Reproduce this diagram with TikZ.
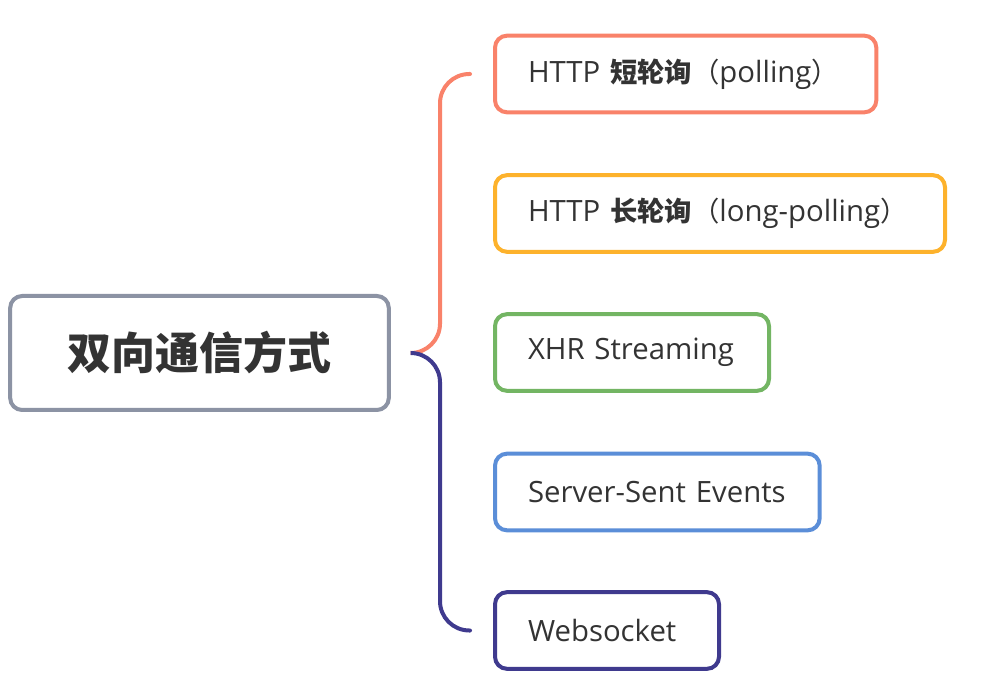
\documentclass[tikz,border=0pt]{standalone}
\usepackage{fontspec}
\setmainfont{Open Sans}
\newfontfamily\cjk{Noto Sans CJK SC}
\newcommand\zhb[1]{{\cjk\bfseries\fontsize{20.5}{26}\selectfont #1}}
\newcommand\zhp[1]{{\cjk\fontsize{20.5}{26}\selectfont #1}}
\usetikzlibrary{calc}
\definecolor{cOrange}{HTML}{F9826A}
\definecolor{cYellow}{HTML}{FDB22C}
\definecolor{cGreen}{HTML}{73B563}
\definecolor{cBlue}{HTML}{5B8ED8}
\definecolor{cPurple}{HTML}{3F3A8E}
\definecolor{cGray}{HTML}{8C93A4}
\definecolor{cText}{HTML}{333333}
\tikzset{
  leaf/.style={draw, line width=3pt, rounded corners=9pt, fill=white,
    minimum height=57.5pt, inner xsep=24.75pt, inner ysep=0pt, align=left,
    text=cText, font=\fontsize{22}{26}\selectfont, anchor=west, outer sep=0pt},
  rootbox/.style={draw=cGray, line width=3pt, rounded corners=9pt, fill=white,
    minimum width=284pt, minimum height=85.5pt, text=cText,
    font=\cjk\bfseries\fontsize{33}{38}\selectfont},
  brace/.style={line width=3pt, rounded corners=22pt, line cap=round}
}
\begin{document}
\begin{tikzpicture}[x=0.75pt,y=-0.75pt]
\useasboundingbox (0,0) rectangle (996,691);
\node[rootbox] (root) at (199.5,353) {双向通信方式};
\node[leaf, draw=cOrange, text width=236.5pt] (b1) at (495,74) {\mbox{HTTP \zhb{短轮询}\zhp{（}polling\zhp{）}}};
\node[leaf, draw=cYellow, text width=288pt] (b2) at (495,213.5) {\mbox{HTTP \zhb{长轮询}\zhp{（}long-polling\zhp{）}}};
\node[leaf, draw=cGreen, text width=156pt] (b3) at (495,352.5) {XHR Streaming};
\node[leaf, draw=cBlue, text width=194pt] (b4) at (495,492) {Server-Sent Events};
\node[leaf, draw=cPurple, text width=118.5pt] (b5) at (495,630.5) {Websocket};
\coordinate (j) at ($(root.east)+(15pt,0)$);
\coordinate (t1) at ($(b1.west)+(-18.75pt,0)$);
\coordinate (t5) at ($(b5.west)+(-18.75pt,0)$);
\draw[brace, cOrange] (j) -| ($(t1)+(-22.5pt,0)$) -- (t1);
\draw[brace, cPurple] (j) -| ($(t5)+(-22.5pt,0)$) -- (t5);
\end{tikzpicture}
\end{document}
